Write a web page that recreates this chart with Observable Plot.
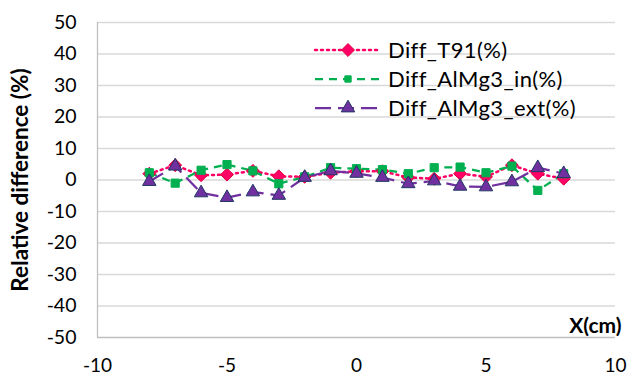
<!DOCTYPE html>
<html><head><meta charset="utf-8">
<script src="https://cdn.jsdelivr.net/npm/d3@7"></script>
<script src="https://cdn.jsdelivr.net/npm/@observablehq/plot@0.6"></script>
<style>
body{margin:0;background:#fff;font-family:Lato,"Liberation Sans",sans-serif;}
#wrap{position:relative;width:627px;height:374px;}
#legend{position:absolute;left:313px;top:35px;font-size:22px;color:#000;letter-spacing:0.4px;}
.row{display:flex;align-items:center;height:29px;}
.row svg{margin-right:5px;}
g[aria-label="y-axis label"] text{font-weight:bold;font-size:22.5px;}
</style></head>
<body><div id="wrap"><div id="legend"></div></div>
<script>
const xs = [-8,-7,-6,-5,-4,-3,-2,-1,0,1,2,3,4,5,6,7,8];
const diffT91 = [2.0,4.7,1.5,1.7,2.9,1.2,1.0,2.3,2.8,2.8,0.8,0.4,2.0,1.0,4.7,2.0,0.4];
const diffAlMg3in = [2.3,-1.0,3.1,4.9,2.9,-1.2,1.0,3.9,3.6,3.3,2.0,3.9,4.1,2.3,4.4,-3.3,2.0];
const diffAlMg3ext = [-0.5,4.4,-4.1,-5.6,-3.8,-4.9,0.8,2.9,2.1,0.8,-1.2,-0.3,-2.0,-2.2,-0.6,3.9,2.0];
const seriesNames = ["Diff_T91(%)","Diff_AlMg3_in(%)","Diff_AlMg3_ext(%)"];
const yTicks = [-50,-40,-30,-20,-10,0,10,20,30,40,50];
const xTicks = [-10,-5,0,5,10];

const styles = [
  {stroke:"#ff0066", dash:"2,4", width:2.5, symbol:"diamond2", fill:"#ff0066", edge:"#e0003c", r:5.8},
  {stroke:"#00b050", dash:"8,6", width:2.25, symbol:"square", fill:"#00b050", edge:"#00b050", r:4.6},
  {stroke:"#7030a0", dash:"16,7", width:2.25, symbol:"triangle", fill:"#7030a0", edge:"#203864", r:5.0}
];
const allVals = [diffT91, diffAlMg3in, diffAlMg3ext];
const data = allVals.map((vals,i)=>xs.map((x,j)=>({x, y:vals[j], s:seriesNames[i]})));
const fmt = d => String(d);

const marks = [
  Plot.ruleY(yTicks.filter(d=>d>-50), {stroke:"#d9d9d9", strokeWidth:1.3}),
  Plot.ruleY([-50], {stroke:"#bfbfbf", strokeWidth:1.3}),
  Plot.ruleX([-10], {stroke:"#bfbfbf", strokeWidth:1.3}),
  Plot.axisY({ticks:yTicks, tickFormat:fmt, tickSize:0, tickPadding:21, fontSize:19.5, label:"Relative difference (%)", labelAnchor:"center", labelArrow:"none", labelOffset:85}),
  Plot.axisX({ticks:xTicks, tickFormat:fmt, tickSize:0, tickPadding:21, fontSize:19, label:null})
];
data.forEach((d,i)=>{
  const st = styles[i];
  marks.push(Plot.line(d,{x:"x",y:"y",stroke:st.stroke,strokeWidth:st.width,strokeDasharray:st.dash,strokeLinecap:st.dash.startsWith("2")?"round":"butt"}));
});
data.forEach((d,i)=>{
  const st = styles[i];
  marks.push(Plot.dot(d,{x:"x",y:"y",symbol:()=>st.symbol,r:st.r,fill:st.fill,stroke:st.edge,strokeWidth:1}));
});
marks.push(Plot.text(["X(cm)"],{frameAnchor:"bottom-right",dx:6,dy:-5,fontSize:21,fontWeight:"bold",textAnchor:"end",lineAnchor:"bottom",fill:"#000"}));

const chart = Plot.plot({
  width:627, height:374,
  marginLeft:97, marginRight:12, marginTop:22, marginBottom:37,
  style:{fontFamily:"Lato, 'Liberation Sans', sans-serif", color:"#000", background:"#fff", overflow:"visible"},
  x:{domain:[-10,10]},
  y:{domain:[-50,50]},
  symbol:{type:"identity"},
  marks
});
document.getElementById("wrap").prepend(chart);

const leg = document.getElementById("legend");
seriesNames.forEach((name,i)=>{
  const st = styles[i];
  const row = document.createElement("div"); row.className="row";
  const svg = d3.create("svg").attr("width",70).attr("height",20);
  svg.append("line").attr("x1",2).attr("x2",68).attr("y1",10).attr("y2",10)
    .attr("stroke",st.stroke).attr("stroke-width",st.width).attr("stroke-dasharray",st.dash)
    .attr("stroke-linecap",st.dash.startsWith("2")?"round":"butt");
  const sym = {diamond2:d3.symbolDiamond2, square:d3.symbolSquare, triangle:d3.symbolTriangle}[st.symbol];
  const size = i===1 ? 40 : Math.PI*st.r*st.r;
  svg.append("path").attr("transform","translate(35,10)").attr("d",d3.symbol(sym,size)())
    .attr("fill",st.fill).attr("stroke",st.edge).attr("stroke-width",1);
  row.append(svg.node());
  const t = document.createElement("span"); t.textContent=name; row.append(t);
  leg.append(row);
});
</script></body></html>
